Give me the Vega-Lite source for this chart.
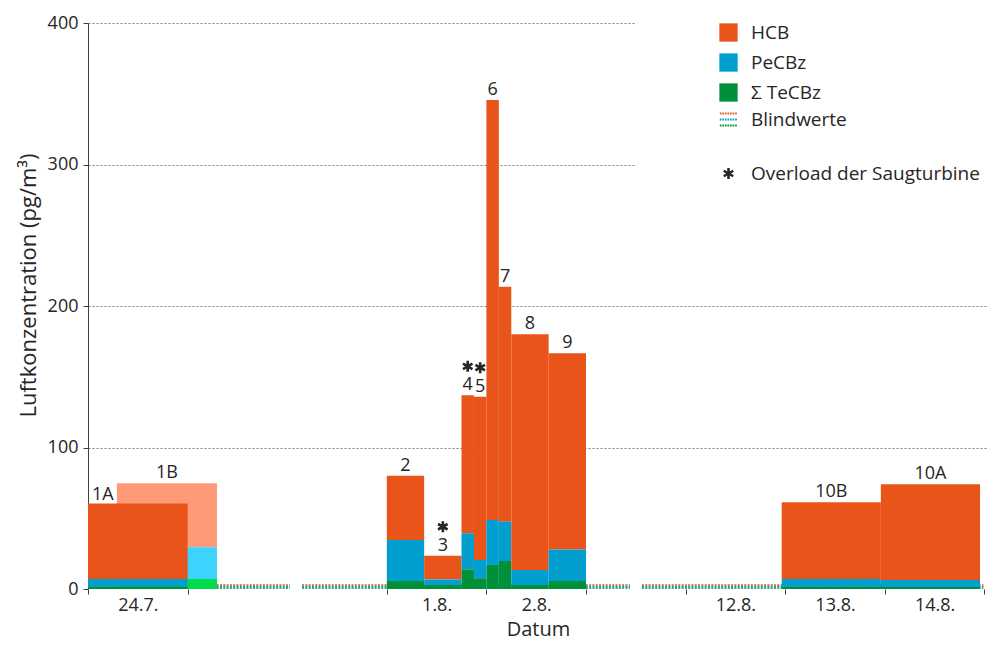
{
  "$schema": "https://vega.github.io/schema/vega-lite/v6.json",
  "width": 900,
  "height": 566,
  "autosize": {"type": "none"},
  "padding": {"left": 88, "top": 23, "right": 4, "bottom": 68},
  "config": {
    "font": "Open Sans",
    "view": {"stroke": null},
    "text": {"font": "Open Sans", "fontSize": 18, "color": "#262626"}
  },
  "datasets": {
    "proben": [
      {"probe": "1A", "beginn": 0.0, "ende": 1.0, "komponente": "HCB", "wert": 53.5, "overload": false},
      {"probe": "1A", "beginn": 0.0, "ende": 1.0, "komponente": "PeCBz", "wert": 5.4, "overload": false},
      {"probe": "1A", "beginn": 0.0, "ende": 1.0, "komponente": "Σ TeCBz", "wert": 1.6, "overload": false},
      {"probe": "1B", "beginn": 0.29, "ende": 1.295, "komponente": "HCB", "wert": 45.2, "overload": false},
      {"probe": "1B", "beginn": 0.29, "ende": 1.295, "komponente": "PeCBz", "wert": 22.4, "overload": false},
      {"probe": "1B", "beginn": 0.29, "ende": 1.295, "komponente": "Σ TeCBz", "wert": 7.1, "overload": false},
      {"probe": "2", "beginn": 3.0, "ende": 3.375, "komponente": "HCB", "wert": 45.4, "overload": false},
      {"probe": "2", "beginn": 3.0, "ende": 3.375, "komponente": "PeCBz", "wert": 29.0, "overload": false},
      {"probe": "2", "beginn": 3.0, "ende": 3.375, "komponente": "Σ TeCBz", "wert": 5.6, "overload": false},
      {"probe": "3", "beginn": 3.375, "ende": 3.75, "komponente": "HCB", "wert": 16.7, "overload": true},
      {"probe": "3", "beginn": 3.375, "ende": 3.75, "komponente": "PeCBz", "wert": 4.0, "overload": true},
      {"probe": "3", "beginn": 3.375, "ende": 3.75, "komponente": "Σ TeCBz", "wert": 2.8, "overload": true},
      {"probe": "4", "beginn": 3.75, "ende": 3.875, "komponente": "HCB", "wert": 97.5, "overload": true},
      {"probe": "4", "beginn": 3.75, "ende": 3.875, "komponente": "PeCBz", "wert": 25.5, "overload": true},
      {"probe": "4", "beginn": 3.75, "ende": 3.875, "komponente": "Σ TeCBz", "wert": 13.9, "overload": true},
      {"probe": "5", "beginn": 3.875, "ende": 4.0, "komponente": "HCB", "wert": 115.4, "overload": true},
      {"probe": "5", "beginn": 3.875, "ende": 4.0, "komponente": "PeCBz", "wert": 12.9, "overload": true},
      {"probe": "5", "beginn": 3.875, "ende": 4.0, "komponente": "Σ TeCBz", "wert": 7.6, "overload": true},
      {"probe": "6", "beginn": 4.0, "ende": 4.125, "komponente": "HCB", "wert": 296.8, "overload": false},
      {"probe": "6", "beginn": 4.0, "ende": 4.125, "komponente": "PeCBz", "wert": 31.8, "overload": false},
      {"probe": "6", "beginn": 4.0, "ende": 4.125, "komponente": "Σ TeCBz", "wert": 17.0, "overload": false},
      {"probe": "7", "beginn": 4.125, "ende": 4.25, "komponente": "HCB", "wert": 166.0, "overload": false},
      {"probe": "7", "beginn": 4.125, "ende": 4.25, "komponente": "PeCBz", "wert": 27.8, "overload": false},
      {"probe": "7", "beginn": 4.125, "ende": 4.25, "komponente": "Σ TeCBz", "wert": 19.8, "overload": false},
      {"probe": "8", "beginn": 4.25, "ende": 4.625, "komponente": "HCB", "wert": 166.6, "overload": false},
      {"probe": "8", "beginn": 4.25, "ende": 4.625, "komponente": "PeCBz", "wert": 10.6, "overload": false},
      {"probe": "8", "beginn": 4.25, "ende": 4.625, "komponente": "Σ TeCBz", "wert": 2.8, "overload": false},
      {"probe": "9", "beginn": 4.625, "ende": 5.0, "komponente": "HCB", "wert": 138.6, "overload": false},
      {"probe": "9", "beginn": 4.625, "ende": 5.0, "komponente": "PeCBz", "wert": 22.4, "overload": false},
      {"probe": "9", "beginn": 4.625, "ende": 5.0, "komponente": "Σ TeCBz", "wert": 5.6, "overload": false},
      {"probe": "10B", "beginn": 6.965, "ende": 7.96, "komponente": "HCB", "wert": 54.2, "overload": false},
      {"probe": "10B", "beginn": 6.965, "ende": 7.96, "komponente": "PeCBz", "wert": 5.5, "overload": false},
      {"probe": "10B", "beginn": 6.965, "ende": 7.96, "komponente": "Σ TeCBz", "wert": 1.6, "overload": false},
      {"probe": "10A", "beginn": 7.96, "ende": 8.956, "komponente": "HCB", "wert": 67.6, "overload": false},
      {"probe": "10A", "beginn": 7.96, "ende": 8.956, "komponente": "PeCBz", "wert": 4.9, "overload": false},
      {"probe": "10A", "beginn": 7.96, "ende": 8.956, "komponente": "Σ TeCBz", "wert": 1.5, "overload": false}
    ],
    "blind": [
      {"beginn": 0.0, "ende": 2.028, "komponente": "HCB", "wert": 2.8},
      {"beginn": 0.0, "ende": 2.028, "komponente": "PeCBz", "wert": 1.8},
      {"beginn": 0.0, "ende": 2.028, "komponente": "Σ TeCBz", "wert": 0.7},
      {"beginn": 2.149, "ende": 5.442, "komponente": "HCB", "wert": 2.8},
      {"beginn": 2.149, "ende": 5.442, "komponente": "PeCBz", "wert": 1.8},
      {"beginn": 2.149, "ende": 5.442, "komponente": "Σ TeCBz", "wert": 0.7},
      {"beginn": 5.562, "ende": 8.99, "komponente": "HCB", "wert": 2.8},
      {"beginn": 5.562, "ende": 8.99, "komponente": "PeCBz", "wert": 1.8},
      {"beginn": 5.562, "ende": 8.99, "komponente": "Σ TeCBz", "wert": 0.7}
    ]
  },
  "layer": [
    {
      "data": {"name": "blind"},
      "mark": {"type": "rule", "strokeDash": [2, 1.3], "strokeWidth": 1.5},
      "encoding": {
        "x": {
          "field": "beginn", "type": "quantitative",
          "scale": {"domain": [0, 9.036], "nice": false, "zero": false},
          "axis": {
            "title": "Datum",
            "values": [0, 0.5, 1, 3, 3.5, 4, 4.5, 5, 6, 6.5, 7, 7.5, 8, 8.5, 9],
            "domain": false,
            "grid": false,
            "tickSize": 5,
            "tickColor": "#404040",
            "tickOpacity": {"condition": {"test": "datum.value % 1 !== 0", "value": 0}, "value": 1},
            "labelExpr": "datum.value === 0.5 ? '24.7.' : datum.value === 3.5 ? '1.8.' : datum.value === 4.5 ? '2.8.' : datum.value === 6.5 ? '12.8.' : datum.value === 7.5 ? '13.8.' : datum.value === 8.5 ? '14.8.' : ''",
            "labelOverlap": false,
            "labelFlush": false,
            "labelBound": false,
            "labelFontSize": 18,
            "labelColor": "#262626",
            "labelPadding": 2,
            "titleFontSize": 20,
            "titleFontWeight": "normal",
            "titleColor": "#262626",
            "titlePadding": 5
          }
        },
        "x2": {"field": "ende"},
        "y": {
          "field": "wert", "type": "quantitative",
          "scale": {"domain": [0, 400], "nice": false},
          "axis": {
            "title": "Luftkonzentration (pg/m³)",
            "values": [0, 100, 200, 300, 400],
            "grid": true,
            "gridDash": [2, 2],
            "gridColor": "#7f7f7f",
            "gridWidth": 1,
            "gridOpacity": {"condition": {"test": "datum.value === 0", "value": 0}, "value": 1},
            "domainColor": "#404040",
            "tickColor": "#404040",
            "tickSize": 5,
            "labelFontSize": 18,
            "labelColor": "#262626",
            "labelPadding": 5,
            "titleFontSize": 22,
            "titleFontWeight": "normal",
            "titleColor": "#262626",
            "titlePadding": 7,
            "titleY": 262
          }
        },
        "stroke": {
          "field": "komponente", "type": "nominal", "legend": null,
          "scale": {"domain": ["HCB", "PeCBz", "Σ TeCBz"], "range": ["#E8541A", "#009FD0", "#00903A"]}
        }
      }
    },
    {
      "data": {"name": "proben"},
      "transform": [
        {"filter": "datum.probe === '1B'"},
        {"stack": "wert", "groupby": ["probe"], "sort": [{"field": "komponente", "order": "descending"}], "as": ["unten", "oben"]}
      ],
      "mark": {"type": "bar"},
      "encoding": {
        "x": {"field": "beginn", "type": "quantitative"},
        "x2": {"field": "ende"},
        "y": {"field": "unten", "type": "quantitative"},
        "y2": {"field": "oben"},
        "fill": {
          "field": "komponente", "type": "nominal", "legend": null,
          "scale": {"domain": ["HCB", "PeCBz", "Σ TeCBz"], "range": ["#FF9A78", "#3DD3FF", "#00DB4C"]}
        }
      }
    },
    {
      "data": {"name": "proben"},
      "transform": [
        {"filter": "datum.probe !== '1B'"},
        {"stack": "wert", "groupby": ["probe"], "sort": [{"field": "komponente", "order": "descending"}], "as": ["unten", "oben"]}
      ],
      "mark": {"type": "bar"},
      "encoding": {
        "x": {"field": "beginn", "type": "quantitative"},
        "x2": {"field": "ende"},
        "y": {"field": "unten", "type": "quantitative"},
        "y2": {"field": "oben"},
        "color": {
          "field": "komponente", "type": "nominal",
          "scale": {
            "domain": ["HCB", "PeCBz", "Σ TeCBz", "Blindwerte", " ", "Overload der Saugturbine"],
            "range": ["#E8541A", "#009FD0", "#00903A", "#ffffff", "#ffffff", "#262626"]
          },
          "legend": {
            "orient": "none",
            "legendX": 548,
            "legendY": -83,
            "padding": 82,
            "fillColor": "white",
            "title": null,
            "symbolSize": 335,
            "symbolStrokeWidth": 2,
            "labelFontSize": 19,
            "labelFont": "Open Sans",
            "labelColor": "#262626",
            "labelOffset": 12,
            "labelLimit": 400,
            "rowPadding": 3,
            "encode": {
              "symbols": {
                "update": {
                  "shape": [
                    {"test": "datum.label === 'Blindwerte'", "value": "M-0.95,-0.66h0.18M-0.67,-0.66h0.18M-0.39,-0.66h0.18M-0.11,-0.66h0.18M0.17,-0.66h0.18M0.45,-0.66h0.18M0.73,-0.66h0.18M-0.95,0h0.18M-0.67,0h0.18M-0.39,0h0.18M-0.11,0h0.18M0.17,0h0.18M0.45,0h0.18M0.73,0h0.18M-0.95,0.66h0.18M-0.67,0.66h0.18M-0.39,0.66h0.18M-0.11,0.66h0.18M0.17,0.66h0.18M0.45,0.66h0.18M0.73,0.66h0.18"},
                    {"test": "datum.label === 'Overload der Saugturbine'", "value": "M-0.14,-0.6L0.14,-0.6L0.14,0.6L-0.14,0.6ZM0.45,-0.421L0.59,-0.179L-0.45,0.421L-0.59,0.179ZM-0.59,-0.179L-0.45,-0.421L0.59,0.179L0.45,0.421Z"},
                    {"value": "square"}
                  ],
                  "stroke": [
                    {"test": "datum.label === 'Blindwerte'", "value": {"gradient": "linear", "x1": 0, "y1": 0, "x2": 0, "y2": 1, "stops": [{"offset": 0, "color": "#E8541A"}, {"offset": 0.25, "color": "#E8541A"}, {"offset": 0.25, "color": "#009FD0"}, {"offset": 0.75, "color": "#009FD0"}, {"offset": 0.75, "color": "#00903A"}, {"offset": 1, "color": "#00903A"}]}},
                    {"value": "transparent"}
                  ]
                }
              }
            }
          }
        }
      }
    },
    {
      "data": {"name": "proben"},
      "transform": [
        {"joinaggregate": [{"op": "sum", "field": "wert", "as": "summe"}], "groupby": ["probe"]},
        {"filter": "datum.komponente === 'HCB' && datum.probe !== '1A'"},
        {"calculate": "(datum.beginn + datum.ende) / 2", "as": "mitte"}
      ],
      "mark": {"type": "text", "baseline": "alphabetic", "align": "center", "dy": -5, "fontSize": 18},
      "encoding": {
        "x": {"field": "mitte", "type": "quantitative"},
        "y": {"field": "summe", "type": "quantitative"},
        "text": {"field": "probe"}
      }
    },
    {
      "data": {"name": "proben"},
      "transform": [
        {"joinaggregate": [{"op": "sum", "field": "wert", "as": "summe"}], "groupby": ["probe"]},
        {"filter": "datum.komponente === 'HCB' && datum.probe === '1A'"}
      ],
      "mark": {"type": "text", "baseline": "alphabetic", "align": "left", "dx": 4, "dy": -3, "fontSize": 18},
      "encoding": {
        "x": {"field": "beginn", "type": "quantitative"},
        "y": {"field": "summe", "type": "quantitative"},
        "text": {"field": "probe"}
      }
    },
    {
      "data": {"name": "proben"},
      "transform": [
        {"joinaggregate": [{"op": "sum", "field": "wert", "as": "summe"}], "groupby": ["probe"]},
        {"filter": "datum.komponente === 'HCB' && datum.overload"},
        {"calculate": "(datum.beginn + datum.ende) / 2", "as": "mitte"}
      ],
      "mark": {
        "type": "point", "filled": true, "size": 484, "opacity": 1, "color": "#262626", "strokeWidth": 0,
        "shape": "M-0.12,-0.5L0.12,-0.5L0.12,0.5L-0.12,0.5ZM0.373,-0.354L0.493,-0.146L-0.373,0.354L-0.493,0.146ZM-0.493,-0.146L-0.373,-0.354L0.493,0.146L0.373,0.354Z"
      },
      "encoding": {
        "x": {"field": "mitte", "type": "quantitative"},
        "y": {"field": "summe", "type": "quantitative"},
        "yOffset": {"value": -29}
      }
    }
  ]
}
